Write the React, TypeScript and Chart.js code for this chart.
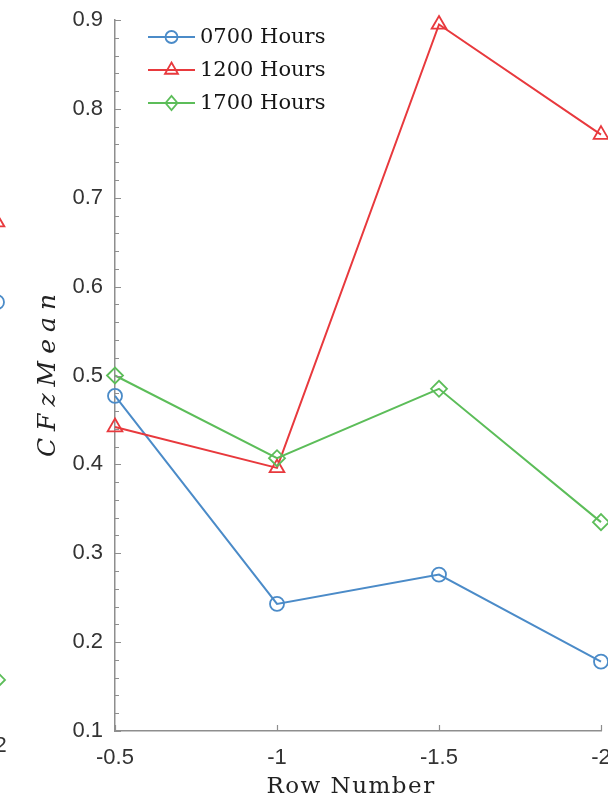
import React, { useEffect, useRef } from 'react';
import { Chart, registerables } from 'chart.js';
import { drawPointLegend } from 'chart.js/helpers';

Chart.register(...registerables);

// Row positions and mean CFz per time of day
const rowNumbers = [-0.5, -1, -1.5, -2];
const hours0700 = [0.477, 0.243, 0.276, 0.178];
const hours1200 = [0.442, 0.396, 0.895, 0.771];
const hours1700 = [0.5, 0.407, 0.485, 0.335];
const seriesLabels = ['0700 Hours', '1200 Hours', '1700 Hours'];
const xTitle = 'Row Number';
const yTitle = 'CFzMean';

// Neighbouring panel: only its last row falls inside the frame
const prevRows = [-2];
const prev0700 = [0.569];
const prev1200 = [0.659];
const prev1700 = [0.144];

const BLUE = '#4b8bc8';
const RED = '#e8393d';
const GREEN = '#5cbd59';
const AXIS = '#8e8e8e';

const CANVAS_W = 640;
const CANVAS_H = 801;

const pts = (xs: number[], ys: number[]) => xs.map((x, i) => ({ x, y: ys[i] }));

// Inward-facing tick marks (major every 0.1, minor every 0.02 on y)
const innerTicks = {
  id: 'innerTicks',
  afterDraw(chart: any) {
    const { ctx, chartArea, scales } = chart;
    const ys = scales.y;
    const xs = scales.x;
    ctx.save();
    ctx.strokeStyle = AXIS;
    ctx.lineWidth = 1.2;
    ctx.beginPath();
    for (let k = 5; k <= 45; k++) {
      const py = Math.round(ys.getPixelForValue(k / 50)) + 0.5;
      const len = k % 5 === 0 ? 6 : 4;
      ctx.moveTo(chartArea.left, py);
      ctx.lineTo(chartArea.left + len, py);
    }
    xs.ticks.forEach((t: any) => {
      const px = Math.round(xs.getPixelForValue(t.value)) + 0.5;
      ctx.moveTo(px, chartArea.bottom);
      ctx.lineTo(px, chartArea.bottom - 6);
    });
    ctx.stroke();
    ctx.restore();
  },
};

// Axis titles, set in a spaced serif like typeset math
const axisTitles = {
  id: 'axisTitles',
  afterDraw(chart: any) {
    const { ctx, chartArea } = chart;
    ctx.save();
    ctx.fillStyle = '#222';
    ctx.textBaseline = 'middle';
    ctx.textAlign = 'center';
    // x title
    ctx.font = '23px "DejaVu Serif"';
    (ctx as any).letterSpacing = '1.5px';
    const cx = (chartArea.left + chartArea.right) / 2 - 7;
    ctx.fillText(xTitle, cx, chartArea.bottom + 56);
    // y title
    ctx.translate(chartArea.left - 67, (chartArea.top + chartArea.bottom) / 2);
    ctx.rotate(-Math.PI / 2);
    ctx.font = 'italic 25px "DejaVu Serif"';
    (ctx as any).letterSpacing = '7px';
    ctx.fillText(yTitle, 3.5, 0);
    ctx.restore();
  },
};

// Legend inside the top-left corner of the axes
const insetLegend = {
  id: 'insetLegend',
  afterDatasetsDraw(chart: any, _args: any, opts: any) {
    if (!opts || !opts.show) return;
    const { ctx, chartArea } = chart;
    ctx.save();
    chart.data.datasets.forEach((ds: any, i: number) => {
      const y = chartArea.top + 17 + i * 33;
      const x0 = chartArea.left + 33;
      const x1 = chartArea.left + 80;
      const xm = (x0 + x1) / 2;
      ctx.strokeStyle = ds.borderColor;
      ctx.lineWidth = 2;
      ctx.beginPath();
      ctx.moveTo(x0, y);
      ctx.lineTo(x1, y);
      ctx.stroke();
      ctx.lineWidth = ds.pointBorderWidth;
      ctx.fillStyle = 'rgba(0,0,0,0)';
      ctx.strokeStyle = ds.borderColor;
      drawPointLegend(
        ctx,
        { pointStyle: ds.pointStyle, radius: ds.pointRadius - 1, rotation: 0, borderWidth: ds.pointBorderWidth },
        xm,
        y,
        ds.pointStyle === 'rectRot' ? 12 : undefined,
      );
      ctx.fillStyle = '#151515';
      ctx.font = '21px "DejaVu Serif"';
      ctx.textAlign = 'left';
      ctx.textBaseline = 'middle';
      ctx.fillText(ds.label, x1 + 5, y + 1);
    });
    ctx.restore();
  },
};

function series(label: string, data: any[], color: string, style: string, radius: number, order: number) {
  return {
    label,
    data,
    borderColor: color,
    backgroundColor: 'transparent',
    borderWidth: 2,
    pointStyle: style,
    pointRadius: radius,
    pointBorderWidth: 1.8,
    pointBorderColor: color,
    pointBackgroundColor: 'transparent',
    showLine: true,
    clip: false,
    order,
  };
}

function makeConfig(datasets: any[], showLegend: boolean): any {
  const tickFont = { family: '"Liberation Sans", Arial, sans-serif', size: 22, lineHeight: 1.2 };
  return {
    type: 'line',
    data: { datasets },
    options: {
      animation: false,
      responsive: false,
      devicePixelRatio: 1,
      layout: { padding: { top: 20, right: CANVAS_W - 601, bottom: 0, left: 0 } },
      plugins: {
        legend: { display: false },
        tooltip: { enabled: false },
        insetLegend: { show: showLegend },
      },
      scales: {
        x: {
          type: 'linear',
          min: -2,
          max: -0.5,
          reverse: true,
          afterFit: (s: any) => {
            s.height = 70;
            s.paddingLeft = 0;
            s.paddingRight = 0;
          },
          ticks: {
            stepSize: 0.5,
            font: tickFont,
            color: '#333',
            padding: 14,
            maxRotation: 0,
            callback: (v: number) => String(v),
          },
          grid: { display: true, drawOnChartArea: false, drawTicks: false },
          border: { display: true, color: AXIS, width: 1.5 },
          title: { display: false },
        },
        y: {
          type: 'linear',
          min: 0.1,
          max: 0.9,
          afterFit: (s: any) => {
            s.width = 115;
            s.paddingTop = 0;
            s.paddingBottom = 0;
          },
          ticks: {
            stepSize: 0.1,
            font: tickFont,
            color: '#333',
            padding: 12,
            callback: (v: number) => v.toFixed(1),
          },
          grid: { display: true, drawOnChartArea: false, drawTicks: false },
          border: { display: true, color: AXIS, width: 1.5 },
          title: { display: false },
        },
      },
    },
    plugins: [innerTicks, axisTitles, insetLegend],
  };
}

function ChartCanvas({ config, style }: { config: () => any; style: React.CSSProperties }) {
  const ref = useRef<HTMLCanvasElement | null>(null);
  useEffect(() => {
    if (!ref.current) return;
    const chart = new Chart(ref.current, config());
    return () => chart.destroy();
  }, []);
  return (
    <canvas
      ref={ref}
      width={CANVAS_W}
      height={CANVAS_H}
      style={{ position: 'absolute', width: CANVAS_W, height: CANVAS_H, ...style }}
    />
  );
}

export default function App() {
  const mainConfig = () =>
    makeConfig(
      [
        series(seriesLabels[0], pts(rowNumbers, hours0700), BLUE, 'circle', 7, 3),
        series(seriesLabels[1], pts(rowNumbers, hours1200), RED, 'triangle', 8.5, 2),
        series(seriesLabels[2], pts(rowNumbers, hours1700), GREEN, 'rectRot', 8, 1),
      ],
      true,
    );
  const prevConfig = () =>
    makeConfig(
      [
        series(seriesLabels[0], pts(prevRows, prev0700), BLUE, 'circle', 7, 3),
        series(seriesLabels[1], pts(prevRows, prev1200), RED, 'triangle', 8.5, 2),
        series(seriesLabels[2], pts(prevRows, prev1700), GREEN, 'rectRot', 8, 1),
      ],
      false,
    );
  return (
    <div
      style={{
        position: 'absolute',
        left: 0,
        top: 0,
        width: 608,
        height: 801,
        overflow: 'hidden',
        background: '#fff',
      }}
    >
      <ChartCanvas config={prevConfig} style={{ left: -604, top: -12 }} />
      <ChartCanvas config={mainConfig} style={{ left: 0, top: 0 }} />
    </div>
  );
}
